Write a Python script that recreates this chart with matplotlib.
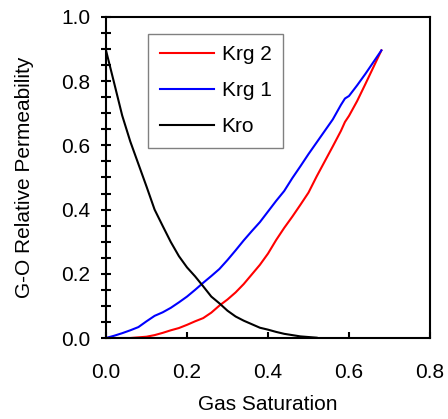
import matplotlib
matplotlib.use("Agg")
import matplotlib.pyplot as plt
from matplotlib.ticker import MultipleLocator, FormatStrFormatter

plt.rcParams['font.family'] = ['Liberation Sans', 'DejaVu Sans']

sg = [0.00, 0.02, 0.04, 0.06, 0.08, 0.10, 0.12, 0.14, 0.16, 0.18, 0.20, 0.22,
      0.24, 0.26, 0.28, 0.30, 0.32, 0.34, 0.36, 0.38, 0.40, 0.42, 0.44, 0.46,
      0.48, 0.50, 0.52, 0.54, 0.56, 0.58, 0.59, 0.60, 0.62, 0.64, 0.66, 0.68]

krg1 = [0.000, 0.007, 0.015, 0.024, 0.034, 0.052, 0.069, 0.080, 0.094, 0.111,
        0.129, 0.150, 0.172, 0.193, 0.215, 0.243, 0.273, 0.304, 0.333, 0.361,
        0.394, 0.427, 0.458, 0.498, 0.535, 0.573, 0.609, 0.645, 0.681, 0.726,
        0.746, 0.754, 0.787, 0.822, 0.859, 0.896]

krg2 = [0.000, 0.000, 0.000, 0.000, 0.002, 0.004, 0.009, 0.016, 0.024, 0.031,
        0.041, 0.052, 0.062, 0.079, 0.101, 0.120, 0.142, 0.168, 0.198, 0.228,
        0.263, 0.305, 0.343, 0.378, 0.415, 0.453, 0.503, 0.550, 0.597, 0.645,
        0.673, 0.692, 0.738, 0.790, 0.843, 0.896]

so_sg = [0.00, 0.02, 0.04, 0.06, 0.08, 0.10, 0.12, 0.14, 0.16, 0.18, 0.20, 0.22,
         0.24, 0.26, 0.28, 0.30, 0.32, 0.34, 0.36, 0.38, 0.40, 0.42, 0.44, 0.46,
         0.48, 0.50, 0.52]
kro = [0.896, 0.795, 0.693, 0.612, 0.542, 0.472, 0.400, 0.349, 0.299, 0.255,
       0.220, 0.192, 0.161, 0.129, 0.108, 0.085, 0.067, 0.054, 0.043, 0.032,
       0.026, 0.019, 0.013, 0.009, 0.005, 0.003, 0.001]

fig = plt.figure(figsize=(4.48, 4.19), dpi=100)
ax = fig.add_axes([106/448, 81/419, 324/448, 321/419])

lw = 1.5
ax.plot(sg, krg2, color='#ff0000', lw=lw, label='Krg 2')
ax.plot(sg, krg1, color='#0000ff', lw=lw, label='Krg 1')
ax.plot(so_sg, kro, color='#000000', lw=lw, label='Kro')

ax.set_xlim(0, 0.8)
ax.set_ylim(0, 1.0)
ax.xaxis.set_major_locator(MultipleLocator(0.2))
ax.yaxis.set_major_locator(MultipleLocator(0.2))
ax.yaxis.set_minor_locator(MultipleLocator(0.05))
ax.xaxis.set_major_formatter(FormatStrFormatter('%.1f'))
ax.yaxis.set_major_formatter(FormatStrFormatter('%.1f'))

for s in ax.spines.values():
    s.set_linewidth(1.5)

ax.tick_params(axis='x', which='major', direction='in', length=4.5, width=1.5,
               labelsize=15, pad=18, top=False)
ax.tick_params(axis='y', which='both', direction='inout', length=6.5, width=1.5,
               labelsize=15, pad=8, right=False)

ax.set_xlabel('Gas Saturation', fontsize=15)
ax.set_ylabel('G-O Relative Permeability', fontsize=15)
ax.xaxis.set_label_coords(0.5, -(395 - 338) / 321)
ax.yaxis.set_label_coords(-(106 - 34) / 324, 0.5)

leg = ax.legend(loc='upper left', bbox_to_anchor=((148.3 - 106) / 324, (337.7 - 33.3) / 321),
                fontsize=15, frameon=True, fancybox=False, framealpha=1,
                handlelength=2.6, labelspacing=0.82, borderpad=0.55,
                handletextpad=0.37, borderaxespad=0)
leg.get_frame().set_edgecolor('#808080')
leg.get_frame().set_linewidth(1.0)

fig.savefig('out.png', dpi=100)
